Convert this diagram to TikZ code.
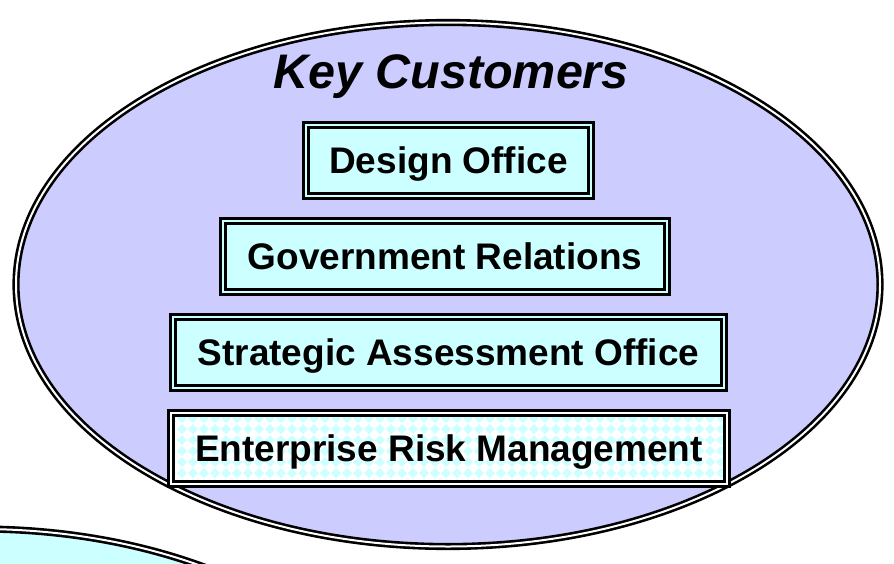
\documentclass[tikz,border=0pt]{standalone}
\usepackage{fontspec}
\setmainfont{Liberation Sans}
\usetikzlibrary{positioning}

\definecolor{lavender}{HTML}{CCCCFF}
\definecolor{palecyan}{HTML}{CCFFFF}

\tikzset{
	ring/.style={draw=black, line width=2.6pt, double=white, double distance=2pt},
	officebox/.style={draw=black, fill=palecyan, line width=2.8pt, double=palecyan, double distance=2.4pt,
		minimum height=71pt, inner sep=0pt, text height=26.5pt, text depth=0pt,
		font=\fontsize{37}{44}\selectfont\bfseries},
	checkbox/.style={officebox, fill=white, double=white,
		path picture={
			\foreach \i in {0,...,53}{
				\foreach \j in {-1,...,8}{
					\fill[palecyan] ([shift={(\i*11,\j*11)}]path picture bounding box.south west)
					+(-5,0) -- +(0,5) -- +(5,0) -- +(0,-5) -- cycle;
				}
			}
		}},
}

\begin{document}
\begin{tikzpicture}[x=1pt,y=1pt,yscale=-1,xscale=1]
		% Page size of the diagram
		\useasboundingbox (0,0) rectangle (894,563);
		\clip (0,0) rectangle (894,563);

		% The cyan ellipse peeking in at the bottom left
		\fill[palecyan] (-20,791) ellipse [x radius=432, y radius=262];
		\draw[ring] (-20,791) ellipse [x radius=432, y radius=262];

		% The big lavender ellipse
		\fill[lavender] (448,284.5) ellipse [x radius=432, y radius=262];
		\draw[ring] (448,284.5) ellipse [x radius=432, y radius=262];

		% Title
		\node (title) at (451,88) [anchor=base, inner sep=0pt, font=\fontsize{48.5}{58}\selectfont\bfseries\itshape] {Key Customers};

		% The four customer boxes
		\node (design) at (448.5,160.5) [officebox, minimum width=285pt] {Design Office};
		\node (govrel) at (445,256.5) [officebox, minimum width=444pt] {Government Relations};
		\node (strategic) at (448.5,352.5) [officebox, minimum width=551pt] {Strategic Assessment Office};
		\node (erm) at (449,448.5) [checkbox, minimum width=556pt] {Enterprise Risk Management};
	\end{tikzpicture}
\end{document}
